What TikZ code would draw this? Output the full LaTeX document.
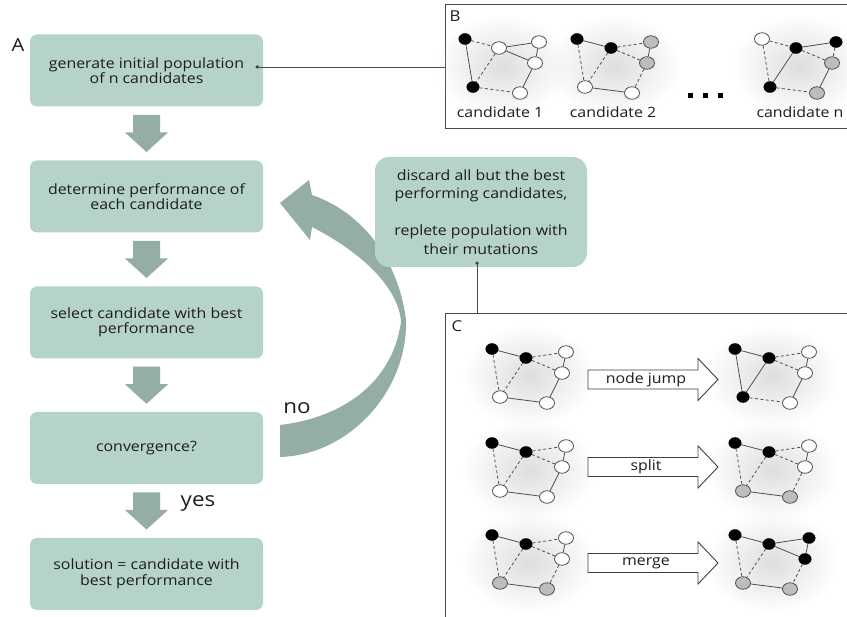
\documentclass[tikz,border=0pt]{standalone}
\usepackage{fontspec}
\setmainfont{Open Sans}[FakeStretch=1.12]
\usetikzlibrary{calc,fadings,shapes.geometric}
\definecolor{boxc}{HTML}{B6D3C7}
\definecolor{arrc}{HTML}{94AEA5}
\definecolor{txt}{HTML}{1E1E1E}
\definecolor{edgec}{HTML}{4D4D4D}
\definecolor{grayn}{HTML}{BDBDBD}
\tikzfading[name=glowfade, inner color=transparent!0, outer color=transparent!100]
\def\PX{{0,34,74,70,8,55}}
\def\PY{{0,9,3,24,48,54}}
\newcommand\gnet[6]{%
 \fill[black!13, path fading=glowfade] (#2+37,#3+27) ellipse (66pt and 50pt);
 \foreach \c [count=\k] in {#4}{%
   \pgfmathsetmacro\gx{#2+\PX[\k-1]}\pgfmathsetmacro\gy{#3+\PY[\k-1]}%
   \node[gn\c] (#1\k) at (\gx,\gy) {};}
 \foreach \a/\b in {#5} \draw[gedge] (#1\a) -- (#1\b);
 \foreach \a/\b in {#6} \draw[gedge,dashed] (#1\a) -- (#1\b);
}
\begin{document}
\begin{tikzpicture}[x=1pt,y=-1pt, font=\fontsize{14.2}{16}\selectfont, text=txt,
 flowbox/.style={fill=boxc, rounded corners=7pt, minimum width=233pt, minimum height=72pt, align=center, inner sep=0pt, font=\fontsize{14.2}{15.5}\selectfont},
 discbox/.style={fill=boxc, rounded corners=14pt, minimum width=212pt, minimum height=110pt, align=center, inner sep=0pt, font=\fontsize{14.2}{18.5}\selectfont},
 panel/.style={draw=black!70, line width=1pt, inner sep=0pt, anchor=north west},
 biglabel/.style={font=\fontsize{18}{20}\selectfont, inner sep=0pt},
 panlabel/.style={font=\fontsize{15}{17}\selectfont, inner sep=0pt},
 anslabel/.style={font=\fontsize{20}{22}\selectfont, inner sep=0pt},
 gnb/.style={ellipse, fill=black, draw=black, minimum width=12.5pt, minimum height=11pt, inner sep=0pt},
 gnw/.style={ellipse, fill=white, draw=edgec, line width=0.8pt, minimum width=15pt, minimum height=12.5pt, inner sep=0pt},
 gng/.style={ellipse, fill=grayn, draw=edgec, line width=0.8pt, minimum width=15pt, minimum height=12.5pt, inner sep=0pt},
 gedge/.style={draw=edgec, line width=0.8pt},
 dashed/.style={dash pattern=on 3pt off 2.5pt},
 pics/downarr/.style={code={\fill[arrc] (-13.5,-18.5) -- (13.5,-18.5) -- (13.5,-1) -- (21.5,-1) -- (0,18.5) -- (-21.5,-1) -- (-13.5,-1) -- cycle;}},
 pics/carrow/.style={code={\draw[fill=white, draw=black!75, line width=0.9pt] (-55,-9.5) -- (55,-9.5) -- (55,-21) -- (75,0) -- (55,21) -- (55,9.5) -- (-55,9.5) -- cycle; \node[inner sep=0pt] (-t) at (3,0) {#1};}}
]
\useasboundingbox (0,0) rectangle (847,617);
\clip (0,0) rectangle (847,617);
\fill[white] (0,0) rectangle (847,617);

% panels
\node[panel, minimum width=412pt, minimum height=124pt] (pB) at (445,4) {};
\node[panel, minimum width=412pt, minimum height=320pt] (pC) at (445,313) {};
\node[panlabel] (lB) at (455,16) {B};
\node[panlabel] (lC) at (457,326) {C};

% panel B graphs
\gnet{ga}{465}{39}{b,w,w,w,b,w}{1/5,2/3,2/4,3/4,4/6}{1/2,2/5,5/6}
\gnet{gb}{577}{39}{b,b,g,g,w,w}{1/2,3/4,5/6}{1/5,2/3,2/4,2/5,4/6}
\gnet{gc}{762}{39}{w,b,b,g,b,g}{2/3,2/5,4/6}{1/2,3/4,2/4,1/5,5/6}
\node (c1) at (500,112) {candidate 1};
\node (c2) at (613,112) {candidate 2};
\node (cn) at (800,112) {candidate n};
\foreach \dx in {690,705,720} \fill (\dx-2.5,93.5) rectangle (\dx+2.5,98.5);

% panel C graphs
\gnet{gd}{492}{349}{b,b,w,w,w,w}{1/2,3/4,5/6,4/6}{1/5,2/3,2/4,2/5}
\gnet{ge}{735}{349}{b,b,w,w,b,w}{1/2,1/5,2/5,3/4,4/6}{2/3,2/4,5/6}
\gnet{gf}{492}{443}{b,b,w,w,w,w}{1/2,3/4,5/6,4/6}{1/5,2/3,2/4,2/5}
\gnet{gg}{735}{443}{b,b,w,w,g,g}{1/2,3/4,5/6}{1/5,2/3,2/4,2/5,4/6}
\gnet{gh}{492}{535}{b,b,w,w,g,g}{1/2,3/4,5/6}{1/5,2/3,2/4,2/5,4/6}
\gnet{gi}{735}{535}{b,b,b,b,g,g}{1/2,2/3,2/4,3/4,5/6}{1/5,2/5,4/6}
\pic (ca) at (643,379.5) {carrow=node jump};
\pic (cb) at (643,467) {carrow=split};
\pic (cc) at (643,563) {carrow=merge};

% curved feedback arrow
\fill[arrc] (280,425) .. controls (340,418) and (392,385) .. (401,322)
  .. controls (400,300) and (380,262) .. (312,227)
  -- (310,240) -- (280,203) -- (309,180) -- (312,195)
  .. controls (370,215) and (400,270) .. (406,320)
  .. controls (408,390) and (350,455) .. (280,457) -- cycle;

% flow boxes
\node[flowbox] (b1) at (146.5,70.5) {generate initial population\\of n candidates};
\node[flowbox] (b2) at (146.5,196.5) {determine performance of\\each candidate};
\node[flowbox] (b3) at (146.5,322.5) {select candidate with best\\performance};
\node[flowbox] (b4) at (146.5,448) {convergence?};
\node[flowbox] (b5) at (146.5,574) {solution = candidate with\\best performance};
\pic at ($(b1.south)!.5!(b2.north)$) {downarr};
\pic at ($(b2.south)!.5!(b3.north)$) {downarr};
\pic at ($(b3.south)!.5!(b4.north)$) {downarr};
\pic at ($(b4.south)!.5!(b5.north)$) {downarr};
\node[biglabel] (lA) at (18,45) {A};
\node[anslabel] (yes) at (198,503) {yes};
\node[anslabel] (no) at (297,408) {no};

% discard box
\node[discbox] (disc) at (481,212) {discard all but the best\\performing candidates,\\[18.5pt]replete population with\\their mutations};

% leader lines
\coordinate (d1) at ($(b1.east)+(-6,-3.5)$);
\fill[black!75] (d1) circle (1.8pt);
\draw[black!70, line width=0.8pt] (d1) -- (d1 -| pB.west);
\coordinate (d2) at ($(disc.south)+(-4,-4)$);
\fill[black!75] (d2) circle (1.8pt);
\draw[black!70, line width=0.8pt] (d2) -- (d2 |- pC.north);
\end{tikzpicture}
\end{document}
